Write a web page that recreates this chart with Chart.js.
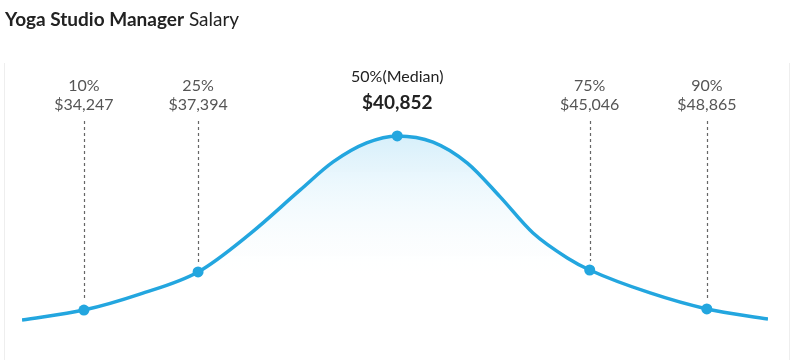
<!DOCTYPE html>
<html>
<head>
<meta charset="utf-8">
<script src="https://cdn.jsdelivr.net/npm/chart.js@4"></script>
<style>
  body { margin: 0; background: #fff; }
  #wrap { position: relative; width: 800px; height: 360px; }
  #title { position: absolute; left: 5px; top: 7px; font-family: Lato, "Open Sans", sans-serif; font-size: 19px; color: #222; }
  #title b { font-weight: 700; }
  #frame { position: absolute; left: 4px; top: 63px; width: 784px; height: 300px; border-left: 1px solid #eee; border-right: 1px solid #eee; }
  canvas { position: absolute; left: 0; top: 0; }
</style>
</head>
<body>
<div id="wrap">
  <div id="frame"></div>
  <canvas id="salary-chart" width="800" height="360"></canvas>
  <div id="title"><b>Yoga Studio Manager</b> Salary</div>
</div>
<script>
// curve: position along the range (0-100) and relative height
const curveX = [0, 8.3, 15.8, 23.6, 30.6, 37.3, 41.7, 46.2, 50.3, 55.1, 59.7, 64.1, 68.5, 73.1, 76.1, 84.2, 91.8, 100];
const curveY = [7.1, 10.7, 16.4, 24.3, 38.0, 53.6, 63.6, 70.4, 72.9, 70.7, 63.2, 51.1, 38.2, 29.3, 25.0, 16.8, 11.1, 7.5];

// percentile markers
const pctLabels = ['10%', '25%', '50%(Median)', '75%', '90%'];
const pctSalaries = ['$34,247', '$37,394', '$40,852', '$45,046', '$48,865'];
const pctX = [8.3, 23.6, 50.3, 76.1, 91.8];
const pctY = [10.7, 24.3, 72.9, 25.0, 11.1];

const blue = '#23a6df';

const labelsPlugin = {
    id: 'pctLabels',
    afterDatasetsDraw(chart) {
        const c = chart.ctx;
        const xs = chart.scales.x;
        const ys = chart.scales.y;
        c.save();
        c.textAlign = 'center';
        c.textBaseline = 'middle';
        for (let i = 0; i < pctX.length; i++) {
            const px = xs.getPixelForValue(pctX[i]);
            const py = ys.getPixelForValue(pctY[i]);
            if (i === 2) {
                c.fillStyle = '#222';
                c.font = '16px Lato, "Open Sans", sans-serif';
                c.fillText(pctLabels[i], px, 77);
                c.font = 'bold 19px Lato, "Open Sans", sans-serif';
                c.fillText(pctSalaries[i], px, 103);
                continue;
            }
            c.fillStyle = '#555';
            c.font = '16px Lato, "Open Sans", sans-serif';
            c.fillText(pctLabels[i], px, 86);
            c.fillText(pctSalaries[i], px, 105);
            // dashed guide down to the point
            c.beginPath();
            c.setLineDash([3, 3]);
            c.strokeStyle = '#666';
            c.lineWidth = 1.2;
            c.moveTo(Math.round(px) + 0.5, 121);
            c.lineTo(Math.round(px) + 0.5, py - 9);
            c.stroke();
        }
        c.restore();
    }
};

const ctx = document.getElementById('salary-chart').getContext('2d');
const chart = new Chart(ctx, {
    type: 'line',
    data: {
        datasets: [
            {
                label: 'markers',
                data: pctX.map((x, i) => ({ x: x, y: pctY[i] })),
                showLine: false,
                pointRadius: 5.5,
                pointBackgroundColor: blue,
                pointBorderWidth: 0,
            },
            {
                label: 'distribution',
                data: curveX.map((x, i) => ({ x: x, y: curveY[i] })),
                borderColor: blue,
                borderWidth: 3.5,
                pointRadius: 0,
                cubicInterpolationMode: 'monotone',
                fill: 'start',
                backgroundColor: (context) => {
                    const area = context.chart.chartArea;
                    if (!area) return 'rgba(0,0,0,0)';
                    const ys = context.chart.scales.y;
                    const g = context.chart.ctx.createLinearGradient(0, ys.getPixelForValue(72), 0, ys.getPixelForValue(18));
                    g.addColorStop(0, 'rgba(190,230,248,0.6)');
                    g.addColorStop(1, 'rgba(255,255,255,0)');
                    return g;
                },
            },
        ],
    },
    options: {
        responsive: false,
        animation: false,
        layout: { padding: { left: 22, right: 32, top: 60, bottom: 20 } },
        plugins: {
            legend: { display: false },
            tooltip: { enabled: false },
        },
        scales: {
            x: { type: 'linear', min: 0, max: 100, display: false },
            y: { min: 0, max: 100, display: false },
        },
    },
    plugins: [labelsPlugin],
});
</script>
</body>
</html>
